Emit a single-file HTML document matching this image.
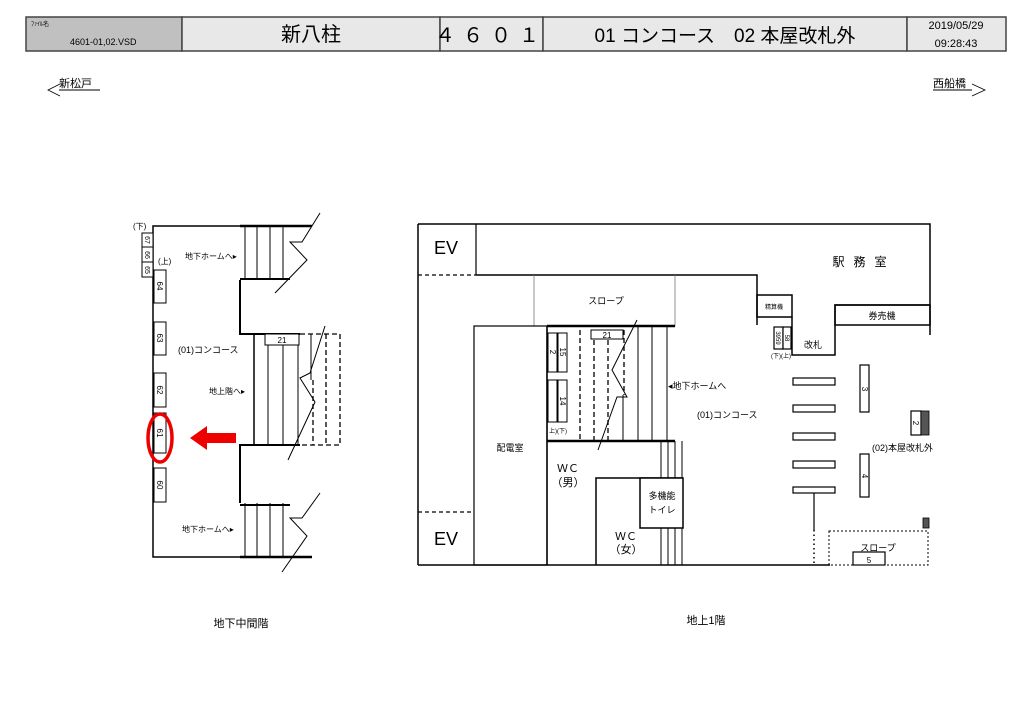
<!DOCTYPE html>
<html><head><meta charset="utf-8"><style>
html,body{margin:0;padding:0;background:#fff;}
svg{display:block;}
text{font-family:"Liberation Sans","Noto Sans CJK JP",sans-serif;fill:#000;}
</style></head><body>
<svg width="1024" height="724" viewBox="0 0 1024 724" xmlns="http://www.w3.org/2000/svg">
<rect width="1024" height="724" fill="#fff"/>
<!-- header -->
<g stroke="#444" stroke-width="1.5">
<rect x="26" y="17" width="156" height="34" fill="#c0c0c0"/>
<rect x="182" y="17" width="258" height="34" fill="#e8e8e8"/>
<rect x="440" y="17" width="103" height="34" fill="#e8e8e8"/>
<rect x="543" y="17" width="364" height="34" fill="#e8e8e8"/>
<rect x="907" y="17" width="99" height="34" fill="#e8e8e8"/>
</g>
<text x="31" y="26" font-size="6">ﾌｧｲﾙ名</text>
<text x="70" y="45" font-size="9">4601-01,02.VSD</text>
<text x="311" y="41" font-size="20" text-anchor="middle">新八柱</text>
<text x="491" y="42" font-size="20" text-anchor="middle" letter-spacing="8">４６０１</text>
<text x="725" y="42" font-size="19" text-anchor="middle">01 コンコース　02 本屋改札外</text>
<text x="956" y="29" font-size="11" text-anchor="middle">2019/05/29</text>
<text x="956" y="47" font-size="11" text-anchor="middle">09:28:43</text>
<!-- direction -->
<text x="59" y="87" font-size="11">新松戸</text>
<line x1="59" y1="90" x2="100" y2="90" stroke="#000"/>
<polyline points="60,84 48,90 60,96" fill="none" stroke="#000" stroke-width="0.8"/>
<text x="933" y="87" font-size="11">西船橋</text>
<line x1="933" y1="90" x2="972" y2="90" stroke="#000"/>
<polyline points="972,84 985,90 972,96" fill="none" stroke="#000" stroke-width="0.8"/>

<!-- LEFT DIAGRAM -->
<g stroke="#000" fill="none">
<polyline points="240,226 153,226 153,557 240,557" stroke-width="1.5"/>
<polyline points="240,226 312,226" stroke-width="2.5"/>
<polyline points="240,280 240,334 300,334" stroke-width="2"/>
<polyline points="240,557 312,557" stroke-width="2.5"/>
<polyline points="240,503 240,445 300,445" stroke-width="2"/>
<line x1="240" y1="279" x2="290" y2="279" stroke-width="2"/>
<line x1="240" y1="505" x2="290" y2="505" stroke-width="2"/>
<!-- upper stair -->
<g stroke-width="1">
<line x1="245" y1="226" x2="245" y2="280"/><line x1="257" y1="226" x2="257" y2="280"/>
<line x1="270" y1="226" x2="270" y2="280"/><line x1="283" y1="226" x2="283" y2="280"/>
<polyline points="320,213 302,242 290,242 307,260 275,293"/>
<!-- lower stair -->
<line x1="245" y1="503" x2="245" y2="557"/><line x1="257" y1="503" x2="257" y2="557"/>
<line x1="270" y1="503" x2="270" y2="557"/><line x1="283" y1="503" x2="283" y2="557"/>
<polyline points="320,493 302,518 290,518 307,536 282,572"/>
<!-- middle stair -->
<line x1="254" y1="334" x2="254" y2="445" stroke-width="1.5"/>
<line x1="268" y1="334" x2="268" y2="445"/><line x1="283" y1="334" x2="283" y2="445"/>
<line x1="298" y1="334" x2="298" y2="445"/>
<line x1="311" y1="334" x2="311" y2="380"/>
<polyline points="325,326 310,373 300,378 315,402 288,460"/>
</g>
<g stroke-width="1.3" stroke-dasharray="5,3">
<polyline points="300,334 340,334 340,445 298,445"/>
<line x1="326" y1="334" x2="326" y2="445"/>
<line x1="313" y1="380" x2="313" y2="445"/>
</g>
<rect x="265" y="334" width="34" height="11" fill="#fff" stroke-width="1"/>
<g stroke-width="1" fill="#fff">
<rect x="154" y="270" width="12" height="33"/><rect x="154" y="322" width="12" height="33"/>
<rect x="154" y="373" width="12" height="34"/><rect x="154" y="413" width="12" height="40"/>
<rect x="154" y="468" width="12" height="34"/>
<rect x="142" y="262" width="11" height="15"/><rect x="142" y="247" width="11" height="15"/>
<rect x="142" y="233" width="11" height="14"/>
</g>
</g>
<g font-size="8">
<text x="282" y="343" text-anchor="middle">21</text>
<text transform="translate(157,286) rotate(90)" text-anchor="middle">64</text>
<text transform="translate(157,338) rotate(90)" text-anchor="middle">63</text>
<text transform="translate(157,390) rotate(90)" text-anchor="middle">62</text>
<text transform="translate(157,433) rotate(90)" text-anchor="middle">61</text>
<text transform="translate(157,485) rotate(90)" text-anchor="middle">60</text>
<text transform="translate(145,270) rotate(90)" text-anchor="middle" font-size="7">65</text>
<text transform="translate(145,255) rotate(90)" text-anchor="middle" font-size="7">66</text>
<text transform="translate(145,240) rotate(90)" text-anchor="middle" font-size="7">67</text>
<text x="133" y="229">(下)</text>
<text x="158" y="264">(上)</text>
<text x="185" y="259">地下ホームへ▸</text>
<text x="178" y="353" font-size="9">(01)コンコース</text>
<text x="209" y="394">地上階へ▸</text>
<text x="182" y="532">地下ホームへ▸</text>
</g>
<ellipse cx="160" cy="438" rx="12" ry="24" fill="none" stroke="#e00" stroke-width="3.5"/>
<polygon points="236,433 207,433 207,426 190,438 207,450 207,443 236,443" fill="#e00"/>
<text x="241" y="627" font-size="11" text-anchor="middle">地下中間階</text>

<!-- RIGHT DIAGRAM -->
<g stroke="#000" fill="none">
<polyline points="418,224 930,224 930,335" stroke-width="1.5"/>
<line x1="418" y1="224" x2="418" y2="565" stroke-width="1.5"/>
<polyline points="418,565 830,565" stroke-width="1.5"/>
<line x1="476" y1="224" x2="476" y2="275" stroke-width="1.2"/>
<polyline points="476,275 757,275 757,325" stroke-width="1.5"/>
<line x1="418" y1="275" x2="476" y2="275" stroke-width="1.2" stroke-dasharray="4,3"/>
<line x1="418" y1="512" x2="474" y2="512" stroke-width="1.2" stroke-dasharray="4,3"/>
<polyline points="534,275 534,326 675,326 675,275" stroke-width="0.8" stroke="#777"/>
<rect x="757" y="295" width="35" height="22" stroke-width="1.5"/>
<polyline points="792,317 792,355 835,355 835,305 930,305" stroke-width="1.5"/>
<rect x="835" y="305" width="95" height="20" stroke-width="1.5"/>
<rect x="474" y="326" width="73" height="239" stroke-width="1.2"/>
<line x1="547" y1="326" x2="675" y2="326" stroke-width="2.5"/>
<line x1="547" y1="441" x2="675" y2="441" stroke-width="2.5"/>
<line x1="547" y1="326" x2="547" y2="565" stroke-width="1.5"/>
<g stroke-width="1">
<line x1="623" y1="395" x2="623" y2="441"/>
<line x1="638" y1="326" x2="638" y2="441"/><line x1="652" y1="326" x2="652" y2="441"/>
<line x1="667" y1="326" x2="667" y2="441"/>
<polyline points="637,320 612,370 627,397 617,397 598,450"/>
<rect x="548" y="333" width="9" height="39"/><rect x="558" y="333" width="9" height="39"/>
<rect x="548" y="380" width="9" height="42"/><rect x="558" y="380" width="9" height="42"/>
<line x1="661" y1="441" x2="661" y2="565"/><line x1="668" y1="441" x2="668" y2="565"/>
<line x1="675" y1="441" x2="675" y2="565"/><line x1="682" y1="441" x2="682" y2="565"/>
</g>
<g stroke-width="1.3" stroke-dasharray="5,3">
<line x1="580" y1="330" x2="580" y2="441"/><line x1="594" y1="340" x2="594" y2="441"/>
<line x1="608" y1="340" x2="608" y2="441"/><line x1="624" y1="330" x2="624" y2="395"/>
</g>
<rect x="591" y="330" width="32" height="9" fill="#fff" stroke-width="1"/>
<polyline points="596,565 596,478 683,478" stroke-width="1.5"/>
<rect x="640" y="478" width="43" height="50" fill="#fff" stroke-width="1.5"/>
<!-- gates -->
<g stroke-width="1.2" fill="#fff">
<rect x="793" y="378" width="42" height="7"/><rect x="793" y="405" width="42" height="7"/>
<rect x="793" y="433" width="42" height="7"/><rect x="793" y="461" width="42" height="7"/>
<rect x="793" y="487" width="42" height="6"/>
<rect x="860" y="365" width="9" height="47"/><rect x="860" y="454" width="9" height="43"/>
<rect x="911" y="411" width="10" height="24"/>
<rect x="853" y="552" width="32" height="13"/>
<rect x="774" y="327" width="9" height="22"/><rect x="783" y="327" width="8" height="22"/>
</g>
<line x1="814" y1="493" x2="814" y2="530" stroke-width="1.2"/>
<line x1="814" y1="530" x2="814" y2="565" stroke-width="1.5" stroke-dasharray="1.5,3"/>
<rect x="829" y="531" width="99" height="34" stroke-width="1" stroke-dasharray="2,2"/>
<rect x="921" y="411" width="8" height="24" fill="#555" stroke-width="0.8"/>
<rect x="923" y="518" width="6" height="10" fill="#555" stroke-width="0.8"/>
</g>
<g font-size="9">
<text x="446" y="254" font-size="18" text-anchor="middle">EV</text>
<text x="446" y="545" font-size="18" text-anchor="middle">EV</text>
<text x="606" y="304" text-anchor="middle">スロープ</text>
<text x="607" y="338" text-anchor="middle" font-size="8">21</text>
<text x="668" y="389">◂地下ホームへ</text>
<text x="697" y="418">(01)コンコース</text>
<text x="510" y="451" text-anchor="middle">配電室</text>
<text x="568" y="472" text-anchor="middle" font-size="11">ＷＣ</text>
<text x="568" y="486" text-anchor="middle" font-size="11">（男）</text>
<text x="626" y="540" text-anchor="middle" font-size="11">ＷＣ</text>
<text x="626" y="553" text-anchor="middle" font-size="11">（女）</text>
<text x="662" y="499" text-anchor="middle">多機能</text>
<text x="662" y="513" text-anchor="middle">トイレ</text>
<text x="549" y="433" font-size="6">上)(下)</text>
<text x="864" y="266" font-size="12" text-anchor="middle" letter-spacing="9">駅務室</text>
<text x="774" y="309" text-anchor="middle" font-size="6">精算機</text>
<text x="882" y="319" text-anchor="middle">券売機</text>
<text x="813" y="348" text-anchor="middle">改札</text>
<text x="771" y="358" font-size="6">(下)(上)</text>
<text x="872" y="451">(02)本屋改札外</text>
<text x="878" y="551" text-anchor="middle">スロープ</text>
<text x="869" y="563" text-anchor="middle" font-size="8">5</text>
<g font-size="8">
<text transform="translate(862,389) rotate(90)" text-anchor="middle">3</text>
<text transform="translate(862,476) rotate(90)" text-anchor="middle">4</text>
<text transform="translate(913,423) rotate(90)" text-anchor="middle">2</text>
<text transform="translate(550,352) rotate(90)" text-anchor="middle">2</text>
<text transform="translate(560,352) rotate(90)" text-anchor="middle">15</text>
<text transform="translate(560,401) rotate(90)" text-anchor="middle">14</text>
<text transform="translate(776,338) rotate(90)" text-anchor="middle" font-size="6">3959</text>
<text transform="translate(785,338) rotate(90)" text-anchor="middle" font-size="6">58</text>
</g>
</g>
<text x="706" y="624" font-size="11" text-anchor="middle">地上1階</text>
</svg>
</body></html>
